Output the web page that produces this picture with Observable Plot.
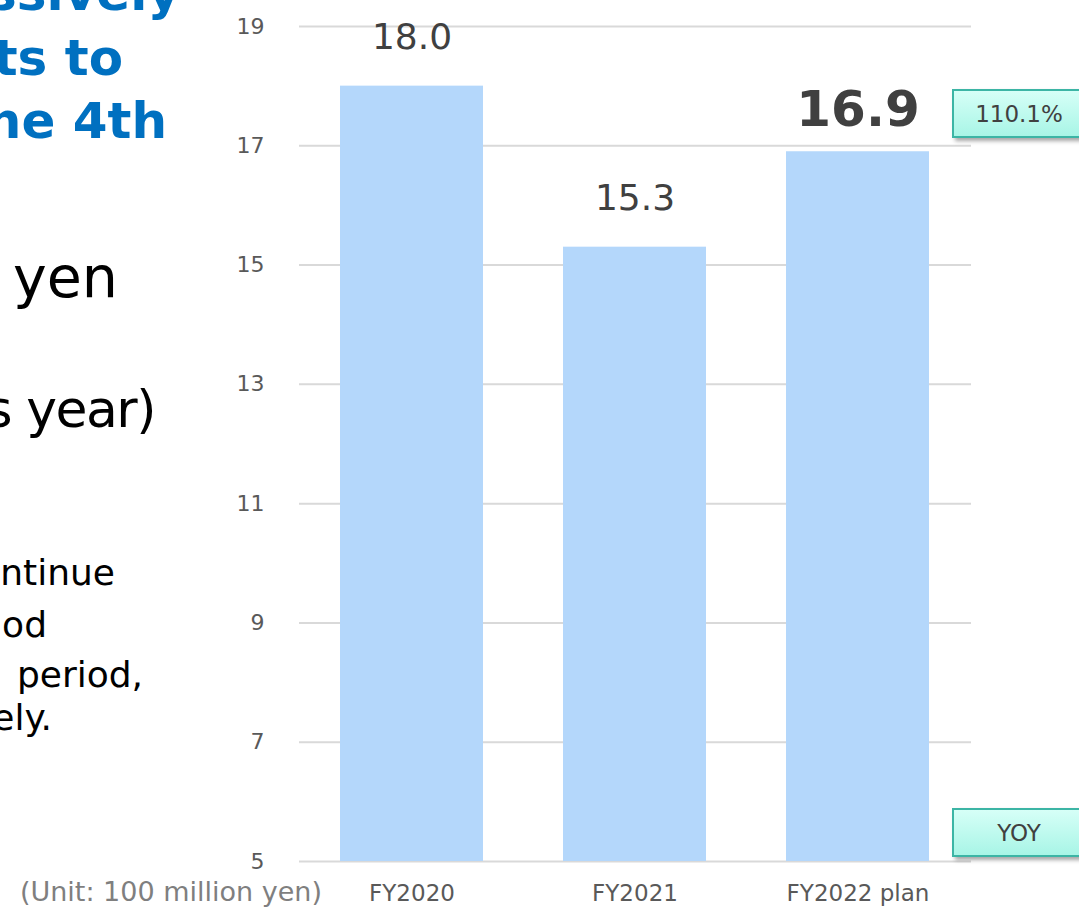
<!DOCTYPE html>
<html>
<head>
<meta charset="utf-8">
<script src="https://cdn.jsdelivr.net/npm/d3@7"></script>
<script src="https://cdn.jsdelivr.net/npm/@observablehq/plot@0.6"></script>
<style>
html, body { margin: 0; padding: 0; background: #fff; }
body { width: 1079px; height: 907px; position: relative; overflow: hidden; font-family: "DejaVu Sans", Verdana, sans-serif; }
#chart { position: absolute; left: 0; top: 0; }
.t { position: absolute; white-space: nowrap; line-height: 1; text-align: right; }
.title { color: #0070c0; font-weight: bold; font-size: 50px; }
.big { color: #000; font-size: 57px; }
.para { color: #000; font-size: 36px; }
.unit { color: #7f7f7f; font-size: 27px; }
.box { position: absolute; left: 952px; width: 134px; height: 49px; box-sizing: border-box;
  border: 2px solid #3cb5a5; background: linear-gradient(#d6fff7, #a8f5e6);
  box-shadow: 3px 3px 4px rgba(0,0,0,0.35); color: #404040; font-size: 23px;
  display: flex; align-items: center; justify-content: center; }
</style>
</head>
<body>
<div id="chart"></div>

<div class="t title" style="right:899px; top:-32px;">ssively</div>
<div class="t title" style="right:956px; top:33px;">ts to</div>
<div class="t title" style="right:912px; top:96px;">ne 4th</div>

<div class="t big" style="right:961px; top:249px;">yen</div>
<div class="t big" style="right:924px; top:383px; font-size:52px; letter-spacing:-1.5px;">s year)</div>

<div class="t para" style="right:964px; top:555px;">ntinue</div>
<div class="t para" style="right:1032px; top:607px;">od</div>
<div class="t para" style="right:936px; top:657px;">period,</div>
<div class="t para" style="right:1027px; top:700px;">ely.</div>

<div class="t unit" style="right:757px; top:878px;">(Unit: 100 million yen)</div>

<div class="box" style="top:89px;">110.1%</div>
<div class="box" style="top:808px;">YOY</div>

<script>
const categories = ["FY2020", "FY2021", "FY2022 plan"];
const values = [18.0, 15.3, 16.9];
const valueLabels = ["18.0", "15.3", "16.9"];
const yTicks = [5, 7, 9, 11, 13, 15, 17, 19];

const data = categories.map((c, i) => ({ category: c, value: values[i], label: valueLabels[i] }));

const chart = Plot.plot({
  width: 1079,
  height: 907,
  marginLeft: 299,
  marginRight: 108,
  marginTop: 26,
  marginBottom: 46,
  style: { fontFamily: "DejaVu Sans, Verdana, sans-serif", background: "transparent", overflow: "visible" },
  x: { domain: categories, paddingInner: 0.357, paddingOuter: 0.179, label: null },
  y: { domain: [5, 19], label: null },
  marks: [
    Plot.ruleY(yTicks, { stroke: "#d9d9d9", strokeWidth: 2 }),
    Plot.barY(data, { x: "category", y1: 5, y2: "value", fill: "#b4d7fb" }),
    Plot.axisY({ ticks: yTicks, tickSize: 0, tickPadding: 35, fontSize: 22, color: "#595959", label: null }),
    Plot.axisX({ tickSize: 0, tickPadding: 23, fontSize: 23, color: "#595959", label: null }),
    Plot.text(data.filter((d, i) => i < 2), { x: "category", y: "value", text: "label", dy: -49, fontSize: 36, fill: "#404040" }),
    Plot.text(data.filter((d, i) => i === 2), { x: "category", y: "value", text: "label", dy: -42, fontSize: 50, fontWeight: "bold", fill: "#404040" })
  ]
});
document.getElementById("chart").appendChild(chart);
</script>
</body>
</html>
